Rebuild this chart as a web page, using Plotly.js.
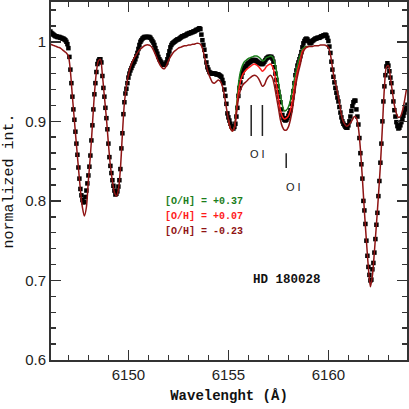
<!DOCTYPE html>
<html>
<head>
<meta charset="utf-8">
<script src="https://cdn.plot.ly/plotly-3.0.1.min.js"></script>
<style>html,body{margin:0;padding:0;background:#fff;}#chart{width:409px;height:409px;}</style>
</head>
<body>
<div id="chart"></div>
<script>
// Observed spectrum of HD 180028 (black squares)
const obsWave = [
6146.10,6146.15,6146.20,6146.25,6146.30,6146.35,6146.40,6146.45,6146.50,6146.55,6146.60,6146.65,6146.70,6146.75,6146.80,6146.85,6146.90,6146.95,
6147.00,6147.05,6147.10,6147.15,6147.20,6147.25,6147.30,6147.35,6147.40,6147.45,6147.50,6147.55,6147.60,6147.65,6147.70,6147.75,6147.80,6147.85,6147.90,6147.95,
6148.00,6148.05,6148.10,6148.15,6148.20,6148.25,6148.30,6148.35,6148.40,6148.45,6148.50,6148.55,6148.60,6148.65,6148.70,6148.75,6148.80,6148.85,6148.90,6148.95,
6149.00,6149.05,6149.10,6149.15,6149.20,6149.25,6149.30,6149.35,6149.40,6149.45,6149.50,6149.55,6149.60,6149.65,6149.70,6149.75,6149.80,6149.85,6149.90,6149.95,
6150.00,6150.05,6150.10,6150.15,6150.20,6150.25,6150.30,6150.35,6150.40,6150.45,6150.50,6150.55,6150.60,6150.65,6150.70,6150.75,6150.80,6150.85,6150.90,6150.95,
6151.00,6151.05,6151.10,6151.15,6151.20,6151.25,6151.30,6151.35,6151.40,6151.45,6151.50,6151.55,6151.60,6151.65,6151.70,6151.75,6151.80,6151.85,6151.90,6151.95,
6152.00,6152.05,6152.10,6152.15,6152.20,6152.25,6152.30,6152.35,6152.40,6152.45,6152.50,6152.55,6152.60,6152.65,6152.70,6152.75,6152.80,6152.85,6152.90,6152.95,
6153.00,6153.05,6153.10,6153.15,6153.20,6153.25,6153.30,6153.35,6153.40,6153.45,6153.50,6153.55,6153.60,6153.65,6153.70,6153.75,6153.80,6153.85,6153.90,6153.95,
6154.00,6154.05,6154.10,6154.15,6154.20,6154.25,6154.30,6154.35,6154.40,6154.45,6154.50,6154.55,6154.60,6154.65,6154.70,6154.75,6154.80,6154.85,6154.90,6154.95,
6155.00,6155.05,6155.10,6155.15,6155.20,6155.25,6155.30,6155.35,6155.40,6155.45,6155.50,6155.55,6155.60,6155.65,6155.70,6155.75,6155.80,6155.85,6155.90,6155.95,
6156.00,6156.05,6156.10,6156.15,6156.20,6156.25,6156.30,6156.35,6156.40,6156.45,6156.50,6156.55,6156.60,6156.65,6156.70,6156.75,6156.80,6156.85,6156.90,6156.95,
6157.00,6157.05,6157.10,6157.15,6157.20,6157.25,6157.30,6157.35,6157.40,6157.45,6157.50,6157.55,6157.60,6157.65,6157.70,6157.75,6157.80,6157.85,6157.90,6157.95,
6158.00,6158.05,6158.10,6158.15,6158.20,6158.25,6158.30,6158.35,6158.40,6158.45,6158.50,6158.55,6158.60,6158.65,6158.70,6158.75,6158.80,6158.85,6158.90,6158.95,
6159.00,6159.05,6159.10,6159.15,6159.20,6159.25,6159.30,6159.35,6159.40,6159.45,6159.50,6159.55,6159.60,6159.65,6159.70,6159.75,6159.80,6159.85,6159.90,6159.95,
6160.00,6160.05,6160.10,6160.15,6160.20,6160.25,6160.30,6160.35,6160.40,6160.45,6160.50,6160.55,6160.60,6160.65,6160.70,6160.75,6160.80,6160.85,6160.90,6160.95,
6161.00,6161.05,6161.10,6161.15,6161.20,6161.25,6161.30,6161.35,6161.40,6161.45,6161.50,6161.55,6161.60,6161.65,6161.70,6161.75,6161.80,6161.85,6161.90,6161.95,
6162.00,6162.05,6162.10,6162.15,6162.20,6162.25,6162.30,6162.35,6162.40,6162.45,6162.50,6162.55,6162.60,6162.65,6162.70,6162.75,6162.80,6162.85,6162.90,6162.95,
6163.00,6163.05,6163.10,6163.15,6163.20,6163.25,6163.30,6163.35,6163.40,6163.45,6163.50,6163.55,6163.60,6163.65,6163.70,6163.75,6163.80,6163.85,6163.90,6163.95
];
const obsFlux = [
1.013,1.011,1.010,1.009,1.008,1.007,1.007,1.006,1.006,1.006,1.005,1.005,1.004,1.004,1.003,1.002,1.000,0.997,
0.992,0.981,0.965,0.948,0.931,0.915,0.902,0.887,0.872,0.858,0.842,0.828,0.815,0.807,0.801,0.798,0.799,0.805,0.813,0.822,
0.832,0.843,0.857,0.876,0.895,0.915,0.934,0.948,0.962,0.972,0.976,0.978,0.978,0.974,0.957,0.942,0.931,0.917,0.904,0.890,
0.872,0.855,0.844,0.835,0.826,0.819,0.813,0.808,0.809,0.812,0.818,0.826,0.840,0.866,0.885,0.909,0.924,0.935,0.941,0.948,
0.955,0.960,0.964,0.967,0.970,0.973,0.975,0.978,0.982,0.986,0.991,0.996,1.000,1.002,1.004,1.005,1.006,1.006,1.006,1.006,
1.006,1.006,1.005,1.003,1.001,0.999,0.996,0.992,0.988,0.985,0.981,0.978,0.976,0.974,0.972,0.971,0.971,0.972,0.974,0.978,
0.983,0.988,0.993,0.996,0.998,0.999,1.000,1.001,1.002,1.003,1.003,1.004,1.005,1.006,1.007,1.007,1.008,1.008,1.009,1.010,
1.010,1.011,1.011,1.012,1.012,1.013,1.013,1.014,1.015,1.015,1.016,1.017,1.016,1.009,1.002,0.996,0.990,0.982,0.974,0.968,
0.965,0.962,0.961,0.960,0.960,0.960,0.960,0.960,0.959,0.959,0.959,0.958,0.957,0.956,0.952,0.948,0.940,0.932,0.922,0.910,
0.905,0.901,0.897,0.894,0.892,0.891,0.893,0.897,0.906,0.917,0.932,0.942,0.949,0.956,0.961,0.965,0.967,0.969,0.970,0.972,
0.973,0.974,0.975,0.976,0.977,0.977,0.977,0.977,0.976,0.975,0.974,0.973,0.973,0.972,0.972,0.973,0.975,0.977,0.979,0.980,
0.981,0.981,0.981,0.981,0.979,0.975,0.968,0.960,0.952,0.944,0.937,0.931,0.924,0.915,0.908,0.904,0.902,0.901,0.902,0.904,
0.907,0.910,0.914,0.922,0.930,0.938,0.948,0.958,0.964,0.970,0.974,0.978,0.982,0.987,0.993,0.998,1.001,1.003,1.004,1.003,
1.001,0.999,0.998,0.999,1.001,1.002,1.003,1.004,1.004,1.005,1.005,1.005,1.006,1.007,1.007,1.008,1.008,1.009,1.008,1.005,
1.001,0.994,0.986,0.975,0.965,0.956,0.949,0.942,0.936,0.930,0.925,0.918,0.911,0.905,0.900,0.897,0.895,0.893,0.892,0.892,
0.895,0.900,0.906,0.913,0.919,0.924,0.926,0.926,0.915,0.906,0.896,0.879,0.860,0.846,0.828,0.800,0.788,0.771,0.750,0.731,
0.717,0.707,0.700,0.701,0.714,0.722,0.735,0.752,0.770,0.785,0.806,0.825,0.848,0.872,0.900,0.925,0.944,0.958,0.969,0.973,
0.970,0.963,0.955,0.948,0.937,0.925,0.914,0.906,0.899,0.894,0.891,0.892,0.895,0.899,0.903,0.907,0.911,0.915,0.918,0.921
];

// Synthetic spectrum, [O/H] = -0.23 (full range)
const synWave = [
6146.1,6146.2,6146.3,6146.4,6146.5,6146.6,6146.7,6146.8,6146.9,
6147.0,6147.1,6147.2,6147.3,6147.4,6147.5,6147.6,6147.7,6147.8,6147.9,
6148.0,6148.1,6148.2,6148.3,6148.4,6148.5,6148.6,6148.7,6148.8,6148.9,
6149.0,6149.1,6149.2,6149.3,6149.4,6149.5,6149.6,6149.7,6149.8,6149.9,
6150.0,6150.1,6150.2,6150.3,6150.4,6150.5,6150.6,6150.7,6150.8,6150.9,
6151.0,6151.1,6151.2,6151.3,6151.4,6151.5,6151.6,6151.7,6151.8,6151.9,
6152.0,6152.1,6152.2,6152.3,6152.4,6152.5,6152.6,6152.7,6152.8,6152.9,
6153.0,6153.1,6153.2,6153.3,6153.4,6153.5,6153.6,6153.7,6153.8,6153.9,
6154.0,6154.1,6154.2,6154.3,6154.4,6154.5,6154.6,6154.7,6154.8,6154.9,
6155.0,6155.1,6155.2,6155.3,6155.4,6155.5,6155.6,6155.7,6155.8,6155.9,
6156.0,6156.1,6156.2,6156.3,6156.4,6156.5,6156.6,6156.7,6156.8,6156.9,
6157.0,6157.1,6157.2,6157.3,6157.4,6157.5,6157.6,6157.7,6157.8,6157.9,
6158.0,6158.1,6158.2,6158.3,6158.4,6158.5,6158.6,6158.7,6158.8,6158.9,
6159.0,6159.1,6159.2,6159.3,6159.4,6159.5,6159.6,6159.7,6159.8,6159.9,
6160.0,6160.1,6160.2,6160.3,6160.4,6160.5,6160.6,6160.7,6160.8,6160.9,
6161.0,6161.1,6161.2,6161.3,6161.4,6161.5,6161.6,6161.7,6161.8,6161.9,
6162.0,6162.1,6162.2,6162.3,6162.4,6162.5,6162.6,6162.7,6162.8,6162.9,
6163.0,6163.1,6163.2,6163.3,6163.4,6163.5,6163.6,6163.7,6163.8,6163.9
];
const synLow = [
0.997,0.996,0.995,0.994,0.993,0.992,0.990,0.988,0.986,
0.982,0.963,0.931,0.901,0.871,0.842,0.814,0.792,0.781,0.792,
0.826,0.857,0.895,0.934,0.962,0.976,0.978,0.958,0.931,0.904,
0.872,0.844,0.825,0.811,0.806,0.814,0.840,0.884,0.923,0.944,
0.958,0.968,0.975,0.980,0.984,0.988,0.991,0.993,0.995,0.996,
0.996,0.995,0.992,0.987,0.981,0.975,0.970,0.967,0.966,0.970,
0.976,0.981,0.985,0.988,0.990,0.992,0.993,0.994,0.995,0.995,
0.996,0.996,0.997,0.997,0.998,0.998,0.997,0.992,0.982,0.970,
0.960,0.954,0.949,0.948,0.950,0.952,0.950,0.944,0.933,0.917,
0.902,0.891,0.888,0.892,0.909,0.928,0.939,0.945,0.948,0.950,
0.953,0.955,0.957,0.958,0.957,0.954,0.949,0.944,0.946,0.952,
0.956,0.958,0.955,0.945,0.931,0.917,0.902,0.893,0.889,0.889,
0.893,0.902,0.915,0.933,0.950,0.962,0.972,0.984,0.990,0.993,
0.994,0.994,0.994,0.995,0.995,0.995,0.996,0.996,0.996,0.995,
0.993,0.984,0.968,0.953,0.943,0.930,0.915,0.903,0.897,0.894,
0.895,0.898,0.902,0.906,0.904,0.892,0.865,0.828,0.787,0.750,
0.716,0.692,0.706,0.736,0.770,0.806,0.845,0.893,0.942,0.968,
0.970,0.955,0.937,0.920,0.910,0.905,0.906,0.913,0.925,0.940
];

// Synthetic spectra around the O I lines, [O/H] = +0.37 and +0.07
const oxyWave = [
6155.0,6155.1,6155.2,6155.3,6155.4,6155.5,6155.6,6155.7,6155.8,6155.9,
6156.0,6156.1,6156.2,6156.3,6156.4,6156.5,6156.6,6156.7,6156.8,6156.9,
6157.0,6157.1,6157.2,6157.3,6157.4,6157.5,6157.6,6157.7,6157.8,6157.9,
6158.0,6158.1,6158.2,6158.3,6158.4,6158.5,6158.6,6158.7,6158.8,6158.9,
6159.0
];
const synHigh = [
0.902,0.891,0.888,0.893,0.918,0.946,0.962,0.970,0.975,0.977,
0.979,0.980,0.981,0.982,0.982,0.981,0.979,0.976,0.977,0.980,
0.981,0.982,0.981,0.975,0.964,0.949,0.933,0.920,0.913,0.914,
0.918,0.926,0.939,0.953,0.965,0.976,0.984,0.991,0.993,0.994,
0.994
];
const synMid = [
0.902,0.891,0.888,0.892,0.913,0.936,0.950,0.958,0.962,0.965,
0.967,0.969,0.971,0.972,0.971,0.969,0.966,0.963,0.965,0.969,
0.971,0.972,0.969,0.961,0.946,0.930,0.914,0.906,0.903,0.904,
0.907,0.914,0.926,0.943,0.957,0.968,0.978,0.988,0.991,0.993,
0.994
];

const abundLabels = ["[O/H] = +0.37", "[O/H] = +0.07", "[O/H] = -0.23"];
const abundColors = ["#1b7d1b", "#ff1a1a", "#8f1414"];
const starName = "HD 180028";
const lineLabel = "O I";
const xTickVals = [6150, 6155, 6160];
const yTickVals = [0.6, 0.7, 0.8, 0.9, 1.0];
const yTickText = ["0.6", "0.7", "0.8", "0.9", "1"];

const lineSpec = (c) => ({color: c, width: 1.5, shape: 'spline', smoothing: 0.8});

const traces = [
  {x: obsWave, y: obsFlux, type: 'scatter', mode: 'markers',
   marker: {symbol: 'square', size: 4.5, color: '#000'}, showlegend: false},
  {x: oxyWave, y: synHigh, type: 'scatter', mode: 'lines', line: lineSpec(abundColors[0]), showlegend: false},
  {x: oxyWave, y: synMid, type: 'scatter', mode: 'lines', line: lineSpec(abundColors[1]), showlegend: false},
  {x: synWave, y: synLow, type: 'scatter', mode: 'lines', line: lineSpec(abundColors[2]), showlegend: false}
];

const axisCommon = {
  showgrid: false, zeroline: false, showline: true, linecolor: '#333', linewidth: 2,
  ticks: 'inside', ticklen: 10, tickwidth: 1.5, tickcolor: '#333', mirror: 'ticks',
  tickfont: {family: 'Liberation Sans, Arial, sans-serif', size: 15, color: '#222'}
};

const monoFont = 'Liberation Mono, Courier New, monospace';
const annotations = [];
abundLabels.forEach((t, i) => {
  annotations.push({x: 6153.8, y: [0.799, 0.780, 0.761][i], xref: 'x', yref: 'y',
    text: '<b>' + t + '</b>', showarrow: false, xanchor: 'center', yanchor: 'middle',
    font: {family: monoFont, size: 10, color: abundColors[i]}});
});
annotations.push({x: 6157.94, y: 0.7006, xref: 'x', yref: 'y', text: '<b>' + starName + '</b>',
  showarrow: false, xanchor: 'center', yanchor: 'middle', font: {family: monoFont, size: 12.5, color: '#111'}});
annotations.push({x: 6156.44, y: 0.859, xref: 'x', yref: 'y', text: lineLabel,
  showarrow: false, xanchor: 'center', yanchor: 'middle', font: {family: 'Liberation Sans, Arial, sans-serif', size: 11, color: '#222'}});
annotations.push({x: 6158.26, y: 0.8175, xref: 'x', yref: 'y', text: lineLabel,
  showarrow: false, xanchor: 'center', yanchor: 'middle', font: {family: 'Liberation Sans, Arial, sans-serif', size: 11, color: '#222'}});

const shapes = [
  {type: 'line', xref: 'x', yref: 'y', x0: 6156.14, x1: 6156.14, y0: 0.8816, y1: 0.9205, line: {color: '#222', width: 1.5}},
  {type: 'line', xref: 'x', yref: 'y', x0: 6156.70, x1: 6156.70, y0: 0.8816, y1: 0.9205, line: {color: '#222', width: 1.5}},
  {type: 'line', xref: 'x', yref: 'y', x0: 6157.89, x1: 6157.89, y0: 0.8414, y1: 0.8600, line: {color: '#222', width: 1.5}}
];

const layout = {
  width: 409, height: 409,
  margin: {l: 51, r: 2, t: 2, b: 49},
  paper_bgcolor: '#fff', plot_bgcolor: '#fff',
  showlegend: false,
  xaxis: Object.assign({}, axisCommon, {
    range: [6146.13, 6163.93], tickmode: 'array', tickvals: xTickVals,
    minor: {tickmode: 'linear', tick0: 6146, dtick: 1, ticks: 'inside', ticklen: 5, tickwidth: 1.5, tickcolor: '#333'},
    title: {text: '<b>Wavelenght (Å)</b>', standoff: 8, font: {family: monoFont, size: 14, color: '#111'}}
  }),
  yaxis: Object.assign({}, axisCommon, {
    range: [0.6, 1.05], tickmode: 'array', tickvals: yTickVals, ticktext: yTickText,
    minor: {tickmode: 'linear', tick0: 0.6, dtick: 0.02, ticks: 'inside', ticklen: 5, tickwidth: 1.5, tickcolor: '#333'},
    title: {text: 'normalized int.', standoff: 8, font: {family: monoFont, size: 15, color: '#111'}}
  }),
  annotations: annotations,
  shapes: shapes
};

Plotly.newPlot('chart', traces, layout, {staticPlot: true, displayModeBar: false});
</script>
</body>
</html>
